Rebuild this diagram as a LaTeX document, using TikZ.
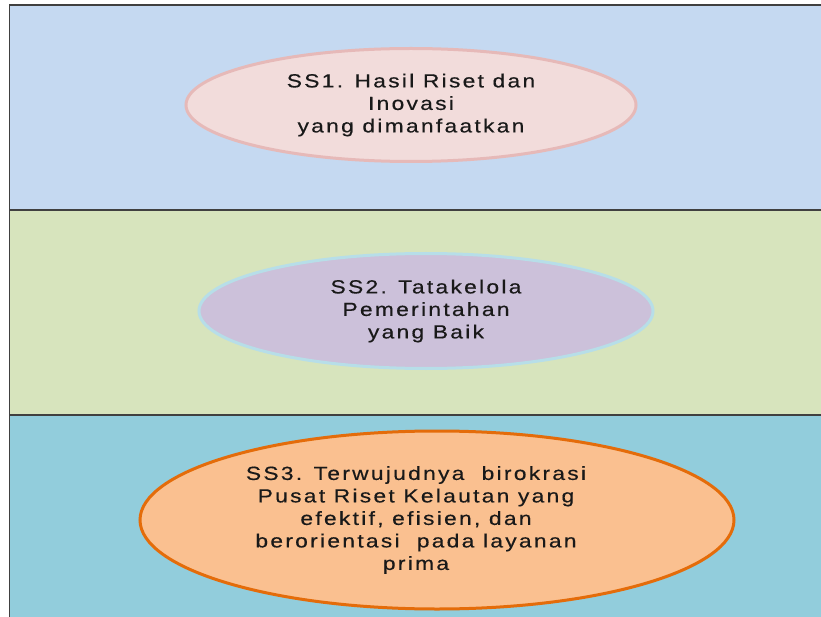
\documentclass[tikz,border=0pt]{standalone}
\usepackage{fontspec}
\setmainfont{Liberation Sans}
\newfontfamily\goalfont[FakeStretch=1.2, LetterSpace=12, FakeBold=0.4]{Liberation Sans}
\usetikzlibrary{shapes.geometric}
\usetikzlibrary{positioning}

\definecolor{bandblue}{HTML}{C5D9F1}
\definecolor{bandgreen}{HTML}{D7E4BD}
\definecolor{bandteal}{HTML}{92CDDC}
\definecolor{pinkfill}{HTML}{F2DCDB}
\definecolor{pinkline}{HTML}{E6B9B8}
\definecolor{lilacfill}{HTML}{CCC1DA}
\definecolor{lilacline}{HTML}{B7DEE8}
\definecolor{orangefill}{HTML}{FAC090}
\definecolor{orangeline}{HTML}{E46C0A}
\definecolor{edgegray}{HTML}{404040}

\tikzset{
  band/.style={draw=edgegray, line width=1.3pt},
  goal/.style={ellipse, inner sep=0pt, line width=3pt, align=center,
               font=\goalfont\fontsize{19}{22.5}\selectfont, text=black!90}
}

\begin{document}
\begin{tikzpicture}[x=1pt, y=-1pt]
		\useasboundingbox (0,0) rectangle (821,617);
		
		%Bands
		\draw[band, fill=bandblue] (9.5,5) rectangle (830,210);
		\draw[band, fill=bandgreen] (9.5,210) rectangle (830,415);
		\draw[band, fill=bandteal] (9.5,415) rectangle (830,630);
		
		%SS1
		\node[goal,
		      fill=pinkfill,
		      draw=pinkline,
		      minimum width = 450,
		      minimum height = 113] (ss1) at (411,105){SS1. Hasil Riset dan\\Inovasi\\yang dimanfaatkan};
		
		%SS2
		\node[goal,
		      fill=lilacfill,
		      draw=lilacline,
		      minimum width = 454,
		      minimum height = 115] (ss2) at (426,311){SS2. Tatakelola\\Pemerintahan\\yang Baik};
		
		%SS3
		\node[goal,
		      fill=orangefill,
		      draw=orangeline,
		      minimum width = 594,
		      minimum height = 178] (ss3) at (437,520){};
		\node[goal, xshift=-21] (ss3text) at (ss3.center){SS3. Terwujudnya \ birokrasi\\Pusat Riset Kelautan yang\\efektif, efisien, dan\\berorientasi \ pada layanan\\prima};
	\end{tikzpicture}
\end{document}
